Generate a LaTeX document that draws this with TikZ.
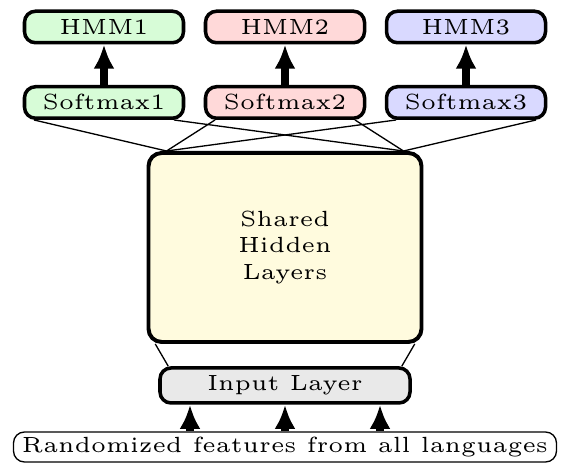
\documentclass[tikz,border=0pt]{standalone}
\usetikzlibrary{arrows.meta}
\definecolor{greenfill}{RGB}{215,252,215}
\definecolor{redfill}{RGB}{255,217,217}
\definecolor{bluefill}{RGB}{217,217,255}
\definecolor{sharedfill}{RGB}{255,251,222}
\definecolor{inputfill}{RGB}{233,233,233}

\begin{document}
\begin{tikzpicture}[x=1mm,y=1mm,
  block/.style={draw,line width=0.8pt,rounded corners=2.5pt,font=\tiny,inner sep=0pt,
    minimum width=12.72mm,minimum height=2.52mm},
  link/.style={line width=0.3pt},
  bigarrow/.style={line width=1.6pt,-{Latex[length=5.5pt,width=4.8pt]}}]
  \useasboundingbox (0,0) rectangle (45.04,37.04);

  % output layers
  \node[block,fill=greenfill] (hmm1) at (8.32,34.88) {HMM1};
  \node[block,fill=redfill] (hmm2) at (22.8,34.88) {HMM2};
  \node[block,fill=bluefill] (hmm3) at (37.28,34.88) {HMM3};
  \node[block,fill=greenfill] (soft1) at (8.32,28.84) {Softmax1};
  \node[block,fill=redfill] (soft2) at (22.8,28.84) {Softmax2};
  \node[block,fill=bluefill] (soft3) at (37.28,28.84) {Softmax3};

  \foreach \i in {1,2,3} {
    \draw[bigarrow] (soft\i) -- (hmm\i);
  }

  % shared part
  \node[block,fill=sharedfill,align=center,rounded corners=3pt,line width=0.9pt,
    minimum width=21.84mm,minimum height=15.12mm] (shared) at (22.8,17.24) {Shared\\Hidden\\Layers};

  \foreach \i in {1,2,3} {
    \draw[link] ([xshift=0.9mm]soft\i.south west) -- ([xshift=1.6mm]shared.north west);
    \draw[link] ([xshift=-0.9mm]soft\i.south east) -- ([xshift=-1.6mm]shared.north east);
  }

  \node[block,fill=inputfill,minimum width=20mm,minimum height=2.8mm] (inp) at (22.8,6.2) {Input Layer};
  \draw[link] ([xshift=0.7mm]shared.south west) -- ([xshift=0.8mm]inp.north west);
  \draw[link] ([xshift=-0.7mm]shared.south east) -- ([xshift=-0.8mm]inp.north east);

  % features
  \node[draw,line width=0.3pt,rounded corners=2.5pt,font=\tiny,inner sep=0pt,
    minimum width=43.44mm,minimum height=2.4mm] (rand) at (22.8,1.28) {Randomized features from all languages};

  \foreach \dx in {-7.6,0,7.6} {
    \draw[bigarrow] ([xshift=\dx mm]rand.north) -- ([xshift=\dx mm]inp.south);
  }
\end{tikzpicture}
\end{document}
